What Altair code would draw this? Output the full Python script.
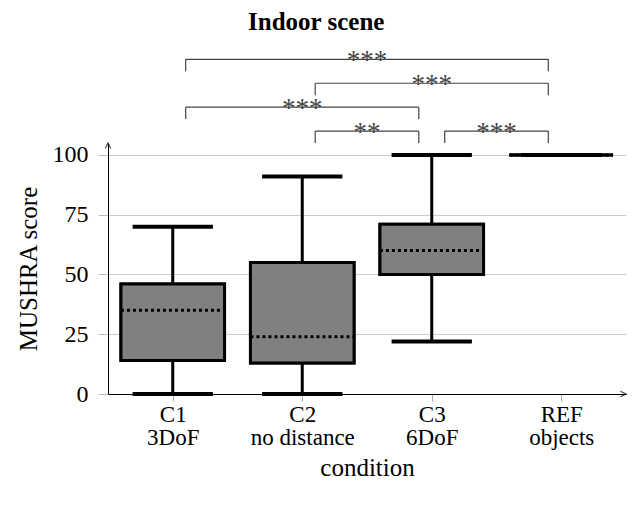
import json
import altair as alt
import pandas as pd

# ---- data ----
categories = ["C1", "C2", "C3", "REF"]
subtitles = ["3DoF", "no distance", "6DoF", "objects"]
mins = [0, 0, 22, 100]
q1s = [14, 13, 50, 100]
medians = [35, 24, 60, 100]
q3s = [46, 55, 71, 100]
maxs = [70, 91, 100, 100]

sig_left = [0, 1, 0, 1, 2]
sig_right = [3, 3, 2, 2, 3]
sig_level = [140, 130, 120, 110, 110]
sig_text = ["***", "***", "***", "**", "***"]

y_ticks = [0, 25, 50, 75, 100]

# ---- style constants ----
BOX_HALF = 0.4
CAP_HALF = 0.31
BR_INSET = 0.1
BR_LEG = 5
FONT = "Liberation Serif"

idx = list(range(len(categories)))
box = pd.DataFrame({"idx": idx, "cat": categories, "lo": mins, "q1": q1s,
                    "med": medians, "q3": q3s, "hi": maxs})
box["left"] = box["idx"] - BOX_HALF
box["right"] = box["idx"] + BOX_HALF

whisk = pd.concat([
    pd.DataFrame({"x": idx, "y": mins, "y2": q1s}),
    pd.DataFrame({"x": idx, "y": q3s, "y2": maxs}),
])
caps = pd.concat([
    pd.DataFrame({"x": [i - CAP_HALF for i in idx], "x2": [i + CAP_HALF for i in idx], "y": mins}),
    pd.DataFrame({"x": [i - CAP_HALF for i in idx], "x2": [i + CAP_HALF for i in idx], "y": maxs}),
])

segs = []
stars = []
for l, r, lev, t in zip(sig_left, sig_right, sig_level, sig_text):
    a, b = l + BR_INSET, r - BR_INSET
    segs.append({"x": a, "x2": b, "y": lev, "y2": lev})
    segs.append({"x": a, "x2": a, "y": lev - BR_LEG, "y2": lev})
    segs.append({"x": b, "x2": b, "y": lev - BR_LEG, "y2": lev})
    stars.append({"x": (l + r) / 2, "y": lev, "t": t})
segs = pd.DataFrame(segs)
stars = pd.DataFrame(stars)

xscale = alt.Scale(domain=[-0.5, 3.5], nice=False, zero=False)
yscale = alt.Scale(domain=[0, 105], nice=False, zero=True)

label_expr = json.dumps([[c, s] for c, s in zip(categories, subtitles)]) + "[round(datum.value)]"

x_axis = alt.Axis(values=idx, labelExpr=label_expr, title="condition", grid=False,
                  tickColor="#aaaaaa", tickSize=7, labelPadding=2, labelLineHeight=23,
                  labelFontSize=23,
                  labelFlush=False, labelOverlap=False, titlePadding=6,
                  domainColor="black")
y_axis = alt.Axis(values=y_ticks, title="MUSHRA score", grid=True, gridColor="#cccccc",
                  tickColor="#bbbbbb", tickSize=10, labelPadding=10, titlePadding=11,
                  labelFontSize=24,
                  domainColor="black")


def X(field):
    return alt.X(field, scale=xscale, axis=x_axis)


def Y(field):
    return alt.Y(field, scale=yscale, axis=y_axis)


base_box = alt.Chart(box)

boxes = base_box.mark_rect(fill="#808080", stroke="black", strokeWidth=3).encode(
    x=X("left:Q"), x2="right:Q", y=Y("q1:Q"), y2="q3:Q",
)

whiskers = alt.Chart(whisk).mark_rule(color="black", strokeWidth=3).encode(
    x=X("x:Q"), y=Y("y:Q"), y2="y2:Q",
)

med = base_box.mark_rule(color="black", strokeWidth=3, strokeDash=[3, 3]).encode(
    x=X("left:Q"), x2="right:Q", y=Y("med:Q"),
)

cap = alt.Chart(caps).mark_rule(color="black", strokeWidth=4).encode(
    x=X("x:Q"), x2="x2:Q", y=Y("y:Q"),
)

brackets = alt.Chart(segs).mark_rule(color="#444444", strokeWidth=1.2).encode(
    x=X("x:Q"), x2="x2:Q", y=Y("y:Q"), y2="y2:Q",
)

star_txt = alt.Chart(stars).mark_text(font=FONT, fontSize=27, baseline="alphabetic",
                                       dy=10, color="#444444").encode(
    x=X("x:Q"), y=Y("y:Q"), text="t:N",
)

arrow_y = alt.Chart(pd.DataFrame({"x": [-0.5], "y": [105]})).mark_point(
    shape="M-0.8,1.6L0,0L0.8,1.6", filled=False, stroke="black", strokeWidth=1.2, size=49
).encode(x=X("x:Q"), y=Y("y:Q"))

arrow_x = alt.Chart(pd.DataFrame({"x": [3.5], "y": [0]})).mark_point(
    shape="M-1.6,-0.8L0,0L-1.6,0.8", filled=False, stroke="black", strokeWidth=1.2, size=49
).encode(x=X("x:Q"), y=Y("y:Q"))

chart = alt.layer(boxes, whiskers, boxes, med, cap, brackets, star_txt, arrow_y, arrow_x).properties(
    width=518,
    height=251,
    title=alt.TitleParams("Indoor scene", font=FONT, fontSize=25, fontWeight="bold",
                          anchor="middle", frame="bounds", offset=12, dx=-6, color="black"),
    autosize=alt.AutoSizeParams(type="none"),
    padding={"left": 100, "top": 135, "right": 1, "bottom": 95},
).configure_view(stroke=None).configure_axis(
    labelFont=FONT, titleFont=FONT, labelFontSize=23, titleFontSize=25,
    titleFontWeight="normal", labelColor="black", titleColor="black",
    domainWidth=1,
)

chart.save("out.html", embed_options={"renderer": "svg", "actions": False})
